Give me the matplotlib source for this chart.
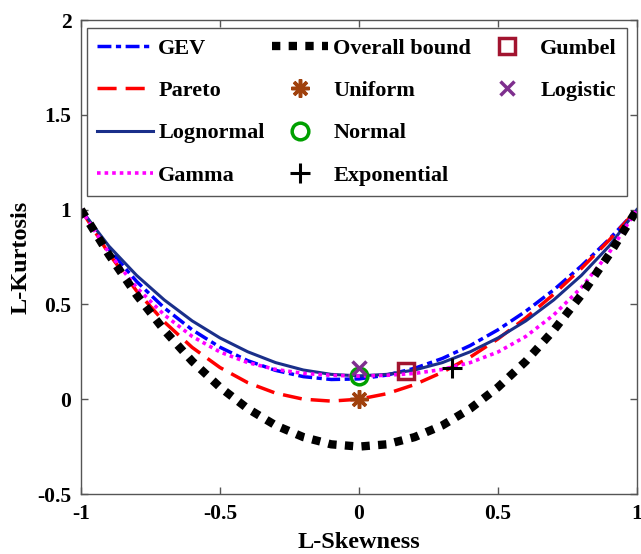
import numpy as np
from matplotlib import pyplot as plt

plt.rcParams['font.family'] = ['Liberation Serif', 'DejaVu Serif']
plt.rcParams['font.weight'] = 'bold'
plt.rcParams['axes.unicode_minus'] = False

# L-skewness grid and L-kurtosis values
tau3 = [-1.0, -0.9, -0.8, -0.7, -0.6, -0.5, -0.4, -0.3, -0.2, -0.1, 0.0,
        0.1, 0.2, 0.3, 0.4, 0.5, 0.6, 0.7, 0.8, 0.9, 1.0]
gev = [1.0, 0.792, 0.621, 0.481, 0.366, 0.274, 0.203, 0.152, 0.119, 0.104, 0.107,
       0.127, 0.163, 0.215, 0.283, 0.366, 0.464, 0.576, 0.703, 0.844, 1.0]
pareto = [1.0, 0.768, 0.571, 0.407, 0.273, 0.167, 0.087, 0.032, 0.0, -0.010, 0.0,
          0.029, 0.077, 0.142, 0.222, 0.318, 0.429, 0.553, 0.690, 0.839, 1.0]
lognormal = [1.0, 0.808, 0.653, 0.523, 0.413, 0.323, 0.250, 0.193, 0.154, 0.131, 0.123,
             0.131, 0.154, 0.193, 0.250, 0.323, 0.413, 0.523, 0.653, 0.808, 1.0]
gamma = [1.0, 0.773, 0.589, 0.444, 0.331, 0.249, 0.193, 0.157, 0.136, 0.126, 0.122,
         0.126, 0.136, 0.157, 0.193, 0.249, 0.331, 0.444, 0.589, 0.773, 1.0]
bound = [1.0, 0.763, 0.55, 0.363, 0.2, 0.063, -0.05, -0.138, -0.2, -0.238, -0.25,
         -0.238, -0.2, -0.138, -0.05, 0.063, 0.2, 0.363, 0.55, 0.763, 1.0]

# single distributions (L-skewness, L-kurtosis)
uniform_pt = (0.0, 0.0)
normal_pt = (0.0, 0.1226)
exponential_pt = (0.3333, 0.1667)
gumbel_pt = (0.1699, 0.1504)
logistic_pt = (0.0, 0.1667)

fig = plt.figure(figsize=(6.41, 5.54), dpi=100)
ax = fig.add_axes([81/641, 60/554, 556/641, 474/554])

h_gev, = ax.plot(tau3, gev, color='#0000ff', lw=2.5, dashes=(4, 1.3, 1.5, 1.3), label='GEV')
h_par, = ax.plot(tau3, pareto, color='#ff0000', lw=2.5, dashes=(5.5, 2.6), label='Pareto')
h_log, = ax.plot(tau3, lognormal, color='#1a2f8a', lw=2.2, label='Lognormal')
h_gam, = ax.plot(tau3, gamma, color='#ff00ff', lw=2.6, dashes=(1, 1.1), label='Gamma')
h_bnd, = ax.plot(tau3, bound, color='black', lw=6, dashes=(1, 1), label='Overall bound')

h_uni, = ax.plot(*uniform_pt, ls='none', marker=(8, 2, 0), ms=13, mew=2.5,
                 color='#a0410d', label='Uniform')
h_nor, = ax.plot(*normal_pt, ls='none', marker='o', ms=12, mew=2.5, mfc='none',
                 color='#00a000', label='Normal')
h_exp, = ax.plot(*exponential_pt, ls='none', marker='+', ms=14, mew=2.2,
                 color='black', label='Exponential')
h_gum, = ax.plot(*gumbel_pt, ls='none', marker='s', ms=11, mew=2.5, mfc='none',
                 color='#a2142f', label='Gumbel')
h_lgs, = ax.plot(*logistic_pt, ls='none', marker='x', ms=10, mew=2.5,
                 color='#7e2f8e', label='Logistic')

blank, = ax.plot([], [], ls='none', label=' ')
handles = [h_gev, h_par, h_log, h_gam, h_bnd, h_uni, h_nor, h_exp, h_gum, h_lgs, blank, blank]
labels = [h.get_label() for h in handles]
labels[-2:] = ['', '']
leg = ax.legend(handles, labels, ncol=3, loc='upper left', bbox_to_anchor=(0.011, 0.983),
                borderaxespad=0, fontsize=16, handlelength=2.5, handletextpad=0.25,
                columnspacing=0.35, labelspacing=0.98, borderpad=0.45,
                fancybox=False, framealpha=1, edgecolor='#555555')
leg.get_frame().set_linewidth(1.0)

ax.set_xlim(-1, 1)
ax.set_ylim(-0.5, 2)
ax.set_xticks([-1, -0.5, 0, 0.5, 1])
ax.set_xticklabels(['-1', '-0.5', '0', '0.5', '1'])
ax.set_yticks([-0.5, 0, 0.5, 1, 1.5, 2])
ax.set_yticklabels(['-0.5', '0', '0.5', '1', '1.5', '2'])
ax.tick_params(direction='in', length=5, width=1, color='#555555', labelsize=15.5,
               top=True, right=True, pad=7)
for s in ax.spines.values():
    s.set_color('#555555')
    s.set_linewidth(1.0)
ax.set_xlabel('L-Skewness', fontsize=17.5, fontweight='bold', labelpad=6)
ax.set_ylabel('L-Kurtosis', fontsize=17.5, fontweight='bold', labelpad=4)

fig.savefig('out.png', dpi=100)
